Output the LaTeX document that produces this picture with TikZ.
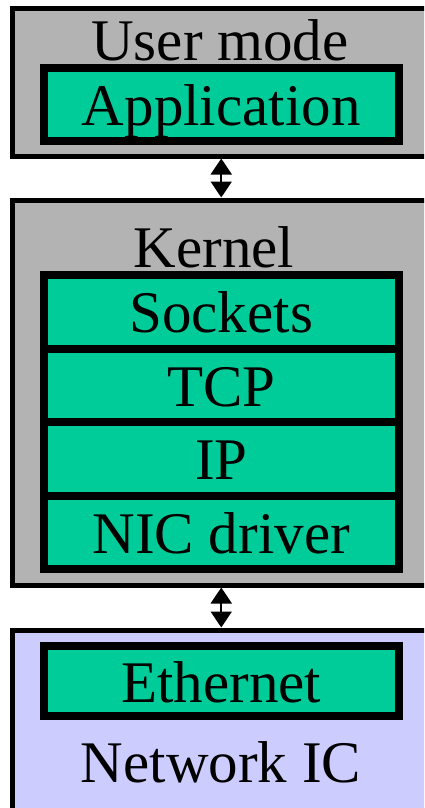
\documentclass[tikz,border=0pt]{standalone}
\usepackage{fontspec}
\setmainfont{Liberation Serif}
\usetikzlibrary{arrows.meta,calc}
\definecolor{layergrey}{RGB}{179,179,179}
\definecolor{layergreen}{RGB}{0,204,153}
\definecolor{chipblue}{RGB}{204,204,255}
\begin{document}
\begin{tikzpicture}[x=1pt,y=-1pt,
  zonebox/.style={draw=black,line width=5pt,rectangle,inner sep=0pt,outer sep=0pt,
    anchor=north west,minimum width=430pt},
  layerbox/.style={draw=black,line width=8pt,fill=layergreen,rectangle,inner sep=0pt,
    outer sep=0pt,minimum width=355.5pt,font=\fontsize{59}{60}\selectfont,
    text height=46pt,text depth=4pt},
  zonecaption/.style={font=\fontsize{59}{60}\selectfont,anchor=base,inner sep=0pt},
  linkarrow/.style={{Triangle[width=21pt,length=16pt]}-{Triangle[width=21pt,length=16pt]},
    line width=2pt,shorten <=2.5pt,shorten >=2.5pt}
]
\useasboundingbox (0,0) rectangle (424,808);
\clip (0,0) rectangle (424,808);

% protection domains
\node[zonebox,fill=layergrey,minimum height=147pt] (user) at (12.5,9) {};
\node[zonebox,fill=layergrey,minimum height=385pt] (kernel) at (12.5,200) {};
\node[zonebox,fill=chipblue,minimum height=200pt] (chip) at (12.5,630) {};

% domain captions
\node[zonecaption] (usercap) at (220,60) {User mode};
\node[zonecaption] (kernelcap) at (214,267) {Kernel};
\node[zonecaption] (chipcap) at (221,782) {Network IC};

% software and hardware layers
\node[layerbox,minimum height=72.5pt] (app) at (221.25,104.25) {Application};
\node[layerbox,minimum height=73.5pt] (sockets) at (221.25,311.75) {Sockets};
\node[layerbox,minimum height=73.5pt] (tcp) at (221.25,385.25) {TCP};
\node[layerbox,minimum height=73.5pt] (ip) at (221.25,458.75) {IP};
\node[layerbox,minimum height=73.5pt] (nic) at (221.25,532.25) {NIC driver};
\node[layerbox,minimum height=70pt] (eth) at (221.25,681) {Ethernet};

% interfaces between domains
\draw[linkarrow] (app.south |- user.south) -- (app.south |- kernel.north);
\draw[linkarrow] (app.south |- kernel.south) -- (app.south |- chip.north);
\end{tikzpicture}
\end{document}
